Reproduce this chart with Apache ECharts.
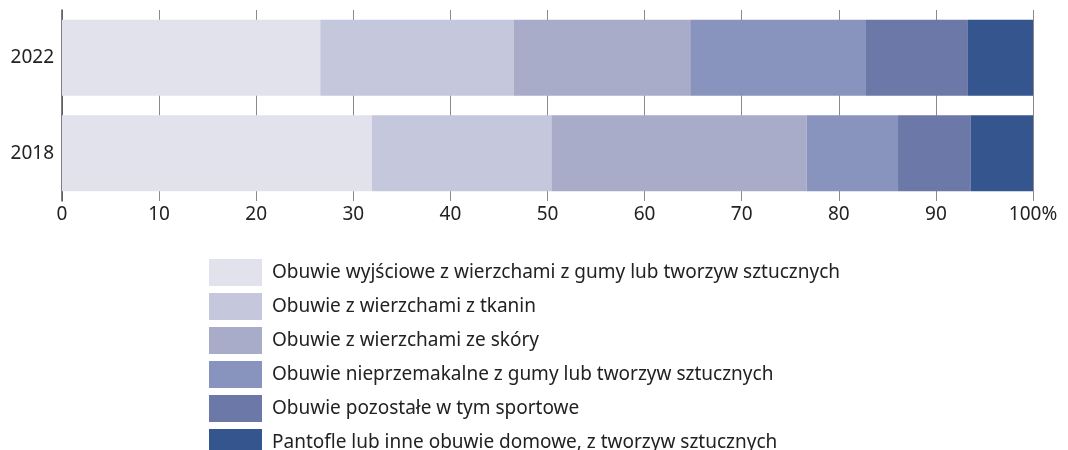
<!DOCTYPE html>
<html>
<head>
<meta charset="utf-8">
<script src="https://cdn.jsdelivr.net/npm/echarts@6/dist/echarts.min.js"></script>
<style>
  html, body { margin: 0; padding: 0; background: #fff; }
  #chart { width: 1068px; height: 450px; }
</style>
</head>
<body>
<div id="chart"></div>
<script>
// lata (od dołu do góry)
var years = ['2018', '2022'];

var seriesNames = [
  'Obuwie wyjściowe z wierzchami z gumy lub tworzyw sztucznych',
  'Obuwie z wierzchami z tkanin',
  'Obuwie z wierzchami ze skóry',
  'Obuwie nieprzemakalne z gumy lub tworzyw sztucznych',
  'Obuwie pozostałe w tym sportowe',
  'Pantofle lub inne obuwie domowe, z tworzyw sztucznych'
];

// wartości [2018, 2022] w %
var wyjsciowe = [31.9, 26.6];
var tkaniny = [18.5, 19.9];
var skora = [26.3, 18.2];
var nieprzemakalne = [9.4, 18.1];
var pozostale = [7.5, 10.5];
var pantofle = [6.4, 6.7];

var xTicks = [0, 10, 20, 30, 40, 50, 60, 70, 80, 90, 100];

var colors = ['#E2E2EC', '#C5C7DC', '#A9ACC9', '#8894BD', '#6C79A8', '#34558E'];
var values = [wyjsciowe, tkaniny, skora, nieprzemakalne, pozostale, pantofle];
var font = '"Noto Sans", sans-serif';

var series = [];
for (var i = 0; i < seriesNames.length; i++) {
  series.push({
    name: seriesNames[i],
    type: 'bar',
    stack: 'all',
    barWidth: 76,
    itemStyle: { color: colors[i] },
    emphasis: { disabled: true },
    data: values[i]
  });
}

var myChart = echarts.init(document.getElementById('chart'));
myChart.setOption({
  animation: false,
  color: colors,
  textStyle: { fontFamily: font },
  grid: { left: 62, right: 35, top: 10, height: 191 },
  legend: {
    orient: 'vertical',
    left: 209,
    top: 259,
    height: 400,
    padding: 0,
    itemWidth: 53,
    itemHeight: 27,
    itemGap: 7,
    icon: 'rect',
    selectedMode: false,
    textStyle: { fontSize: 19, color: '#222', fontFamily: font, padding: [0, 0, 0, 5] },
    data: seriesNames
  },
  xAxis: {
    type: 'value',
    min: xTicks[0],
    max: xTicks[xTicks.length - 1],
    interval: 10,
    axisLine: { show: false },
    axisTick: { show: false },
    splitLine: { show: true, lineStyle: { color: '#8a8a8a', width: 1 } },
    axisLabel: {
      fontSize: 19,
      color: '#222',
      margin: 4,
      formatter: function (v) { return v === 100 ? '100%' : v; }
    }
  },
  yAxis: {
    type: 'category',
    data: years,
    axisLine: { show: true, lineStyle: { color: '#555', width: 1.5 } },
    axisTick: { show: false },
    axisLabel: { fontSize: 19, color: '#222', margin: 8 }
  },
  series: series
});
</script>
</body>
</html>
